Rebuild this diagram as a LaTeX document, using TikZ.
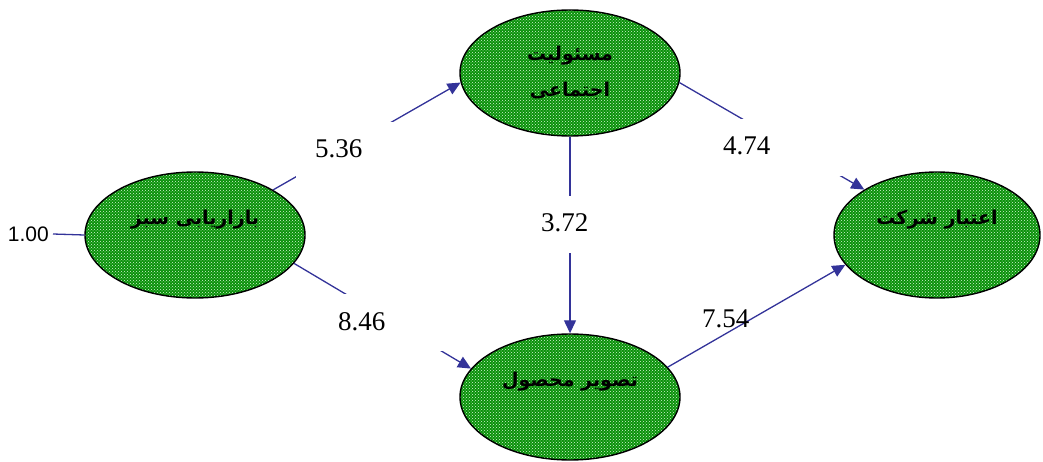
\documentclass[tikz,border=0pt]{standalone}
\usepackage{fontspec}
\usepackage{tikz}
\usetikzlibrary{shapes.geometric,arrows.meta,patterns}
\setmainfont{Liberation Serif}
\newfontfamily\numfont{Liberation Sans}
\newfontfamily\farsifont[Script=Arabic]{DejaVu Sans}
\TeXXeTstate=1
\definecolor{pathblue}{RGB}{51,51,153}
\definecolor{leafgreen}{RGB}{10,145,10}
\definecolor{gridgreen}{RGB}{215,245,215}

\begin{document}
\begin{tikzpicture}[x=1pt,y=1pt]
			\tikzstyle{every node}+=[inner sep=0pt]
			\tikzstyle{factor}=[ellipse, draw=black, line width=1.4pt, preaction={fill=leafgreen}, pattern=crosshatch dots, pattern color=gridgreen, minimum width=220pt, minimum height=126pt, align=center, font=\farsifont\bfseries\fontsize{19}{36}\selectfont]
			\tikzstyle{link}=[draw=pathblue, line width=1.3pt, -{Triangle[length=13pt,width=12pt]}]
			\tikzstyle{coef}=[fill=white, inner xsep=19pt, text width=102pt, align=left, text height=36pt, text depth=21pt, anchor=base west, font=\fontsize{27}{32}\selectfont]
			\useasboundingbox (0,0) rectangle (1043,-462);
			\node [factor] (mkt) at (195,-235) {\beginR بازاریابی سبز\endR\\\mbox{}};
			\node [factor] (resp) at (570,-73) {\beginR مسئولیت\endR\\\beginR اجتماعی\endR};
			\node [factor] (image) at (570,-397) {\beginR تصویر محصول\endR\\\mbox{}};
			\node [factor, minimum width=206pt] (credit) at (937,-235) {\beginR اعتبار شرکت\endR\\\mbox{}};
			\node [font=\numfont\fontsize{21}{25}\selectfont, inner sep=4pt, anchor=east] (err) at (53,-234) {1.00};
			\draw [pathblue, line width=1.3pt] (err.east) -- (mkt.west);
			\draw [link] (mkt.30) -- (resp.185);
			\draw [link] (mkt.-16) -- (image.164);
			\draw [link] (resp.south) -- (image.north);
			\draw [link] (resp.-5) -- (credit.148);
			\draw [link] (image.17) -- (credit.198);
			\node [coef] (c536) at (296,-158) {5.36};
			\node [coef] (c474) at (704,-155) {4.74};
			\node [coef] (c846) at (319,-330) {8.46};
			\node [coef] (c372) at (522,-232) {3.72};
			\node [coef, fill=none] (c754) at (683,-327) {7.54};
			\end{tikzpicture}
\end{document}
